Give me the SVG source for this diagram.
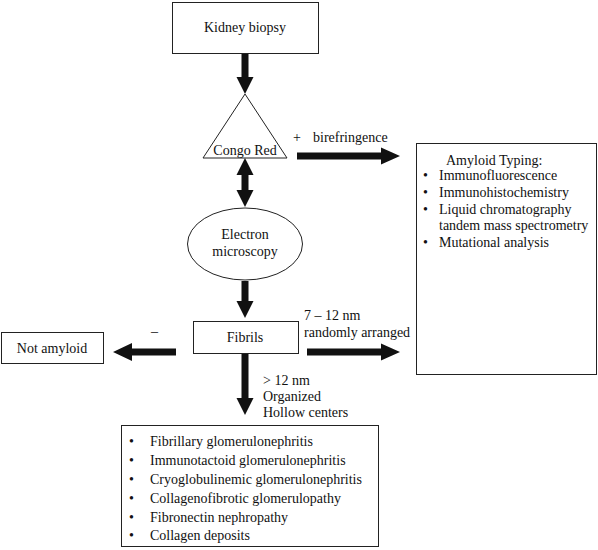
<svg xmlns="http://www.w3.org/2000/svg" width="598" height="550" viewBox="0 0 598 550">
<style>
.box{fill:#fff;stroke:#222;stroke-width:1}
.t{font-family:"Liberation Serif","Times New Roman",serif;font-size:14px;fill:#111}
.c{text-anchor:middle}
.arr{fill:#111;stroke:none}
</style>
<rect width="598" height="550" fill="#fff"/>
<g id="connectors">
<path class="arr" d="M241.5,53 H248.5 V77 H253.5 L245,94 L236.5,77 H241.5 Z"/>
<path class="arr" d="M245,158 L253.5,175 H248.5 V190 H253.5 L245,207 L236.5,190 H241.5 V175 H236.5 Z"/>
<path class="arr" d="M241.5,281 H248.5 V301 H253.5 L245,318 L236.5,301 H241.5 Z"/>
<path class="arr" d="M241.5,353 H248.5 V398 H253.5 L245,415 L236.5,398 H241.5 Z"/>
<path class="arr" d="M176,348.5 V355.5 H132 V361 L113,352 L132,343 V348.5 Z"/>
<path class="arr" d="M297,152.5 H381 V147.5 L400,156 L381,164.5 V159.5 H297 Z"/>
<path class="arr" d="M307,348.5 H381 V343.5 L400,352 L381,360.5 V355.5 H307 Z"/>
<text class="t" x="293" y="142">+</text>
<text class="t" x="313" y="142">birefringence</text>
<text class="t" x="304" y="320">7 – 12 nm</text>
<text class="t" x="304" y="337">randomly arranged</text>
<text class="t" x="151" y="336">–</text>
<text class="t" x="263" y="385">&gt; 12 nm</text>
<text class="t" x="263" y="401">Organized</text>
<text class="t" x="263" y="417">Hollow centers</text>
</g>
<g id="kidney-biopsy">
<rect class="box" x="172.5" y="2.5" width="146" height="51"/>
<text class="t c" x="245" y="32">Kidney biopsy</text>
</g>
<g id="congo-red">
<polygon class="box" points="245,94 203,158 287,158"/>
<text class="t c" x="245" y="155">Congo Red</text>
</g>
<g id="electron-microscopy">
<ellipse class="box" cx="245" cy="244" rx="57.5" ry="36"/>
<text class="t c" x="245" y="239">Electron</text>
<text class="t c" x="245" y="256">microscopy</text>
</g>
<g id="fibrils">
<rect class="box" x="193.5" y="321.5" width="105" height="32"/>
<text class="t c" x="245" y="342">Fibrils</text>
</g>
<g id="not-amyloid">
<rect class="box" x="1.5" y="332.5" width="102" height="31"/>
<text class="t c" x="52" y="353">Not amyloid</text>
</g>
<g id="amyloid-typing">
<rect class="box" x="416.5" y="143.5" width="180" height="231"/>
<text class="t" x="446" y="165">Amyloid Typing:</text>
<g class="t">
<text x="423" y="180">•</text><text x="439" y="180">Immunofluorescence</text>
<text x="423" y="197">•</text><text x="439" y="197">Immunohistochemistry</text>
<text x="423" y="214">•</text><text x="439" y="214">Liquid chromatography</text>
<text x="439" y="230">tandem mass spectrometry</text>
<text x="423" y="247">•</text><text x="439" y="247">Mutational analysis</text>
</g>
</g>
<g id="differential-list">
<rect class="box" x="121.5" y="425.5" width="257" height="121"/>
<g class="t">
<text x="129" y="446">•</text><text x="150" y="446">Fibrillary glomerulonephritis</text>
<text x="129" y="465">•</text><text x="150" y="465">Immunotactoid glomerulonephritis</text>
<text x="129" y="484">•</text><text x="150" y="484">Cryoglobulinemic glomerulonephritis</text>
<text x="129" y="503">•</text><text x="150" y="503">Collagenofibrotic glomerulopathy</text>
<text x="129" y="522">•</text><text x="150" y="522">Fibronectin nephropathy</text>
<text x="129" y="540">•</text><text x="150" y="540">Collagen deposits</text>
</g>
</g>
</svg>
